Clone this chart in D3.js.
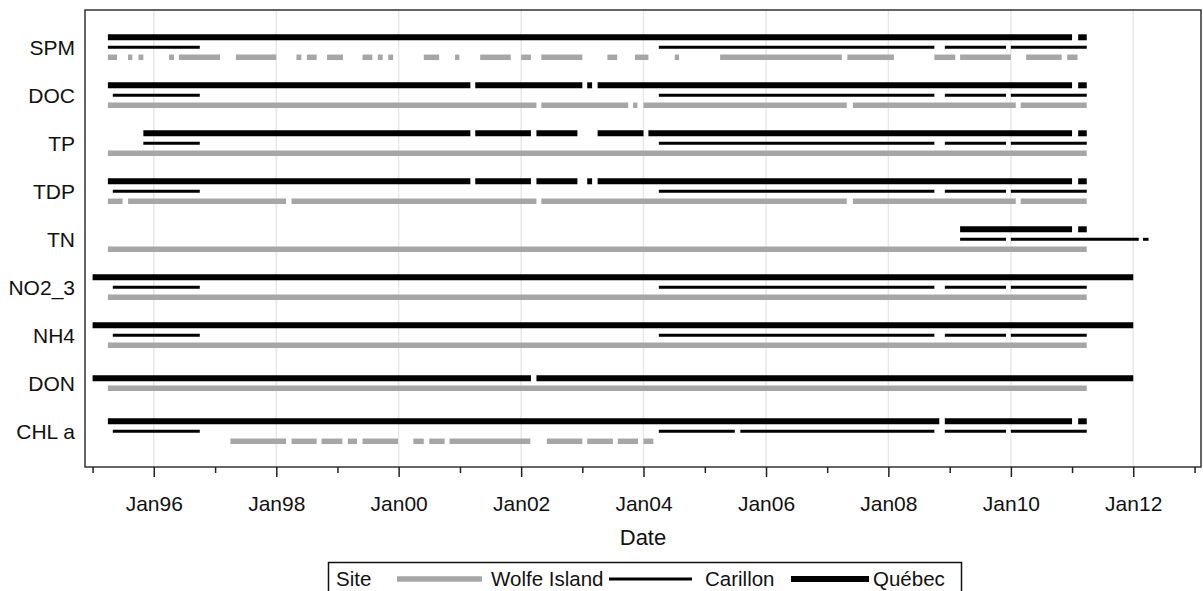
<!DOCTYPE html>
<html>
<head>
<meta charset="utf-8">
<script src="https://cdn.jsdelivr.net/npm/d3@7"></script>
<style>
  body { margin: 0; background: #fff; }
  svg { display: block; font-family: "Liberation Sans", Arial, sans-serif; }
  .tick text { font-size: 21px; fill: #111; }
  .legend-text { font-size: 20.5px; fill: #111; }
</style>
</head>
<body>
<div id="chart"></div>
<script>
// Variables (rows, top to bottom) and sites (order inside a row, top to bottom)
const variables = ['SPM', 'DOC', 'TP', 'TDP', 'TN', 'NO2_3', 'NH4', 'DON', 'CHL a'];
const sites = ['Québec', 'Carillon', 'Wolfe Island'];

// Sampling runs per site: [variable, start, end] in decimal years
const quebecRuns = [
  ['SPM', 1995.25, 2011.0], ['SPM', 2011.1, 2011.24],
  ['DOC', 1995.25, 2001.17], ['DOC', 2001.25, 2003.0], ['DOC', 2003.08, 2003.16],
  ['DOC', 2003.25, 2011.0], ['DOC', 2011.1, 2011.24],
  ['TP', 1995.83, 2001.17], ['TP', 2001.25, 2002.16], ['TP', 2002.25, 2002.92],
  ['TP', 2003.25, 2004.0], ['TP', 2004.08, 2011.0], ['TP', 2011.1, 2011.24],
  ['TDP', 1995.25, 2001.17], ['TDP', 2001.25, 2002.16], ['TDP', 2002.25, 2002.92],
  ['TDP', 2003.08, 2003.16], ['TDP', 2003.25, 2011.0], ['TDP', 2011.1, 2011.24],
  ['TN', 2009.17, 2011.0], ['TN', 2011.1, 2011.24],
  ['NO2_3', 1995.0, 2012.0],
  ['NH4', 1995.0, 2012.0],
  ['DON', 1995.0, 2002.16], ['DON', 2002.25, 2012.0],
  ['CHL a', 1995.25, 2008.83], ['CHL a', 2008.92, 2011.0], ['CHL a', 2011.1, 2011.24],
];

const carillonRuns = [
  ['SPM', 1995.25, 1996.75], ['SPM', 2004.25, 2008.75], ['SPM', 2008.92, 2009.92], ['SPM', 2010.0, 2011.24],
  ['DOC', 1995.33, 1996.75], ['DOC', 2004.25, 2008.75], ['DOC', 2008.92, 2009.92], ['DOC', 2010.0, 2011.24],
  ['TP', 1995.83, 1996.75], ['TP', 2004.25, 2008.75], ['TP', 2008.92, 2009.92], ['TP', 2010.0, 2011.24],
  ['TDP', 1995.33, 1996.75], ['TDP', 2004.25, 2008.75], ['TDP', 2008.92, 2009.92], ['TDP', 2010.0, 2011.24],
  ['TN', 2009.17, 2009.92], ['TN', 2010.0, 2012.09], ['TN', 2012.16, 2012.25],
  ['NO2_3', 1995.33, 1996.75], ['NO2_3', 2004.25, 2008.75], ['NO2_3', 2008.92, 2009.92], ['NO2_3', 2010.0, 2011.24],
  ['NH4', 1995.33, 1996.75], ['NH4', 2004.25, 2008.75], ['NH4', 2008.92, 2009.92], ['NH4', 2010.0, 2011.24],
  ['CHL a', 1995.33, 1996.75], ['CHL a', 2004.25, 2005.49], ['CHL a', 2005.58, 2008.75],
  ['CHL a', 2008.92, 2009.92], ['CHL a', 2010.0, 2011.24],
];

const wolfeRuns = [
  ['SPM', 1995.25, 1995.40], ['SPM', 1995.58, 1995.65], ['SPM', 1995.75, 1995.83], ['SPM', 1996.25, 1996.33],
  ['SPM', 1996.41, 1997.08], ['SPM', 1997.34, 1998.0], ['SPM', 1998.33, 1998.41], ['SPM', 1998.5, 1998.66],
  ['SPM', 1998.83, 1999.09], ['SPM', 1999.41, 1999.57], ['SPM', 1999.66, 1999.74], ['SPM', 1999.83, 1999.91],
  ['SPM', 2000.41, 2000.66], ['SPM', 2000.92, 2000.99], ['SPM', 2001.33, 2001.83], ['SPM', 2002.0, 2002.16],
  ['SPM', 2002.33, 2003.0], ['SPM', 2003.41, 2003.57], ['SPM', 2003.86, 2004.08], ['SPM', 2004.51, 2004.58],
  ['SPM', 2005.25, 2007.24], ['SPM', 2007.33, 2008.09], ['SPM', 2008.75, 2009.09], ['SPM', 2009.17, 2010.0],
  ['SPM', 2010.25, 2010.83], ['SPM', 2010.92, 2011.09],
  ['DOC', 1995.25, 2002.25], ['DOC', 2002.33, 2003.75], ['DOC', 2003.83, 2003.90],
  ['DOC', 2004.0, 2007.32], ['DOC', 2007.42, 2010.08], ['DOC', 2010.16, 2011.24],
  ['TP', 1995.25, 2011.24],
  ['TDP', 1995.25, 1995.49], ['TDP', 1995.58, 1998.16], ['TDP', 1998.25, 2002.25],
  ['TDP', 2002.33, 2007.32], ['TDP', 2007.42, 2010.08], ['TDP', 2010.16, 2011.24],
  ['TN', 1995.25, 2011.24],
  ['NO2_3', 1995.25, 2011.24],
  ['NH4', 1995.25, 2011.24],
  ['DON', 1995.25, 2011.24],
  ['CHL a', 1997.25, 1998.16], ['CHL a', 1998.25, 1998.66], ['CHL a', 1998.74, 1999.08],
  ['CHL a', 1999.17, 1999.32], ['CHL a', 1999.41, 1999.99], ['CHL a', 2000.24, 2000.41],
  ['CHL a', 2000.5, 2000.75], ['CHL a', 2000.83, 2002.15], ['CHL a', 2002.42, 2003.0],
  ['CHL a', 2003.08, 2003.5], ['CHL a', 2003.58, 2003.91], ['CHL a', 2004.0, 2004.16],
];

// x axis extent in decimal years
const dateExtent = [1994.876, 2013.105];

const runsBySite = new Map([
  ['Québec', quebecRuns],
  ['Carillon', carillonRuns],
  ['Wolfe Island', wolfeRuns],
]);

const siteStyle = {
  'Wolfe Island': { stroke: '#a6a6a6', width: 5.5 },
  Carillon: { stroke: '#000', width: 3 },
  'Québec': { stroke: '#000', width: 6 },
};

const config = {
  width: 1203,
  height: 591,
  margin: { top: 10, right: 2, bottom: 124, left: 85 },
  clusterStep: 10,
};

// decimal year -> Date
function toDate(y) {
  const yr = Math.floor(y);
  const start = new Date(yr, 0, 1);
  const end = new Date(yr + 1, 0, 1);
  return new Date(+start + (y - yr) * (end - start));
}

const innerW = config.width - config.margin.left - config.margin.right;
const innerH = config.height - config.margin.top - config.margin.bottom;

const svg = d3.select('#chart').append('svg')
  .attr('width', config.width)
  .attr('height', config.height);

const g = svg.append('g')
  .attr('transform', `translate(${config.margin.left},${config.margin.top})`);

const xScale = d3.scaleTime()
  .domain(dateExtent.map(toDate))
  .range([0, innerW]);

const yScale = d3.scalePoint()
  .domain(variables)
  .range([37.3, 421.3]);

// gridlines at major ticks
const majorTicks = d3.timeYear.every(2).range(...xScale.domain());
const minorTicks = d3.timeYear.range(...xScale.domain()).filter((d) => d.getFullYear() % 2 === 1);

g.selectAll('.grid')
  .data(majorTicks)
  .enter()
  .append('line')
  .attr('class', 'grid')
  .attr('x1', (d) => xScale(d))
  .attr('x2', (d) => xScale(d))
  .attr('y1', 0)
  .attr('y2', innerH)
  .attr('stroke', '#e8e8e8')
  .attr('stroke-width', 1.5);

// cluster offset: only sites that have data for a variable get a slot
function offsetFor(variable, site) {
  const present = sites.filter((s) => runsBySite.get(s).some((r) => r[0] === variable));
  const i = present.indexOf(site);
  return (i - (present.length - 1) / 2) * config.clusterStep;
}

// draw runs (grey underneath, black on top)
['Wolfe Island', 'Carillon', 'Québec'].forEach((site) => {
  const style = siteStyle[site];
  g.append('g')
    .attr('class', 'site-runs')
    .selectAll('line')
    .data(runsBySite.get(site))
    .enter()
    .append('line')
    .attr('x1', (d) => xScale(toDate(d[1])))
    .attr('x2', (d) => xScale(toDate(d[2])))
    .attr('y1', (d) => yScale(d[0]) + offsetFor(d[0], site))
    .attr('y2', (d) => yScale(d[0]) + offsetFor(d[0], site))
    .attr('stroke', style.stroke)
    .attr('stroke-width', style.width)
    .attr('stroke-linecap', 'butt');
});

// frame
g.append('rect')
  .attr('x', 0)
  .attr('y', 0)
  .attr('width', innerW)
  .attr('height', innerH)
  .attr('fill', 'none')
  .attr('stroke', '#333')
  .attr('stroke-width', 1.5);

// x axis: major ticks with labels, minor ticks without
const xAxis = g.append('g')
  .attr('transform', `translate(0,${innerH})`)
  .call(d3.axisBottom(xScale)
    .tickValues(majorTicks)
    .tickSize(10)
    .tickPadding(19)
    .tickFormat(d3.timeFormat('%b%y')));
xAxis.select('.domain').remove();
xAxis.selectAll('.tick line').attr('stroke', '#222').attr('stroke-width', 1.5);

const xMinor = g.append('g')
  .attr('transform', `translate(0,${innerH})`)
  .call(d3.axisBottom(xScale)
    .tickValues(minorTicks)
    .tickSize(6)
    .tickFormat(''));
xMinor.select('.domain').remove();
xMinor.selectAll('.tick line').attr('stroke', '#222').attr('stroke-width', 1.5);

// y axis: category labels only
const yAxis = g.append('g')
  .call(d3.axisLeft(yScale).tickSize(0).tickPadding(10));
yAxis.select('.domain').remove();

// axis title
g.append('text')
  .attr('x', innerW / 2)
  .attr('y', innerH + 78)
  .attr('text-anchor', 'middle')
  .attr('font-size', 22)
  .attr('fill', '#111')
  .text('Date');

// legend
const legend = svg.append('g').attr('class', 'legend');
legend.append('rect')
  .attr('x', 328.5)
  .attr('y', 562.5)
  .attr('width', 633)
  .attr('height', 30)
  .attr('fill', '#fff')
  .attr('stroke', '#111')
  .attr('stroke-width', 1.5);

const legendY = 579;
legend.append('text')
  .attr('class', 'legend-text')
  .attr('x', 336)
  .attr('y', legendY)
  .attr('dy', '0.35em')
  .text('Site');

// swatch start/end and label start for each legend entry
const legendSlots = [
  { line: [397, 482], label: 491 },
  { line: [609, 692], label: 705 },
  { line: [791, 869], label: 873 },
];
['Wolfe Island', 'Carillon', 'Québec'].forEach((site, i) => {
  const style = siteStyle[site];
  const slot = legendSlots[i];
  legend.append('line')
    .attr('x1', slot.line[0])
    .attr('x2', slot.line[1])
    .attr('y1', legendY)
    .attr('y2', legendY)
    .attr('stroke', style.stroke)
    .attr('stroke-width', style.width);
  legend.append('text')
    .attr('class', 'legend-text')
    .attr('x', slot.label)
    .attr('y', legendY)
    .attr('dy', '0.35em')
    .text(site);
});
</script>
</body>
</html>
